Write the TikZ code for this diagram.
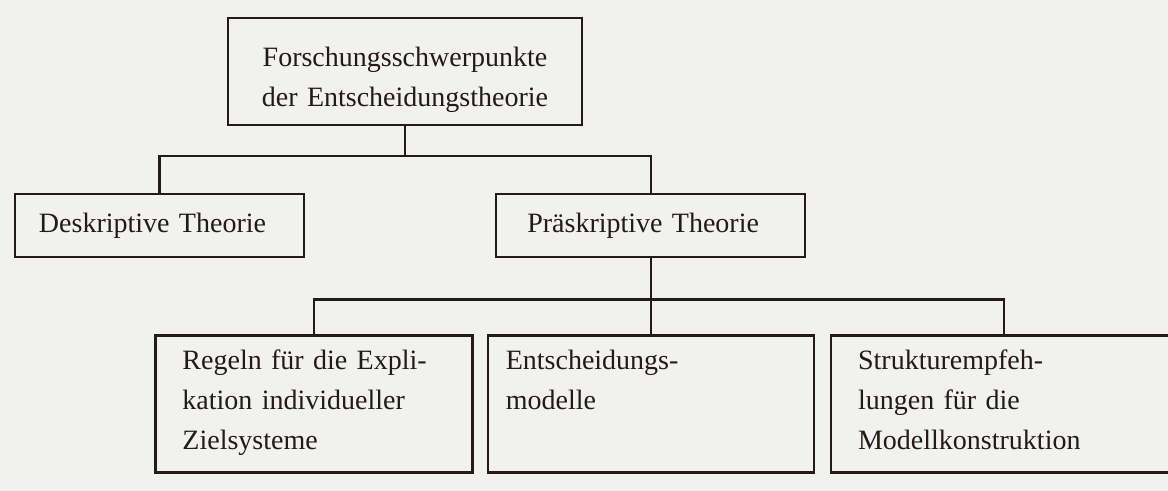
\documentclass[tikz,border=0pt]{standalone}
\usepackage{fontspec}
\setmainfont{Liberation Serif}
\usepackage{tikz}
\usetikzlibrary{positioning}
\definecolor{ink}{RGB}{36,26,22}
\definecolor{paper}{RGB}{241,241,239}

\begin{document}
\begin{tikzpicture}[
        every node/.style={font=\fontsize{14}{20}\selectfont, text=ink},
        box/.style={rectangle, draw=ink, line width=1.15pt, inner sep=0pt, align=center},
        % middle boxes: text a little left of centre
        branch/.style={box, align=left, inner xsep=15.5pt, minimum height=31.5pt},
        % bottom boxes: text sits at the top left
        leaf/.style={box, align=left, inner xsep=13.5pt, inner ysep=7pt, text height=10pt, text depth=44.5pt},
        link/.style={draw=ink, line width=1.15pt}
    ]

    % Page
    \useasboundingbox (-202.5pt,-209.75pt) rectangle (381.5pt,35.75pt);
    \clip (-202.5pt,-209.75pt) rectangle (381.5pt,35.75pt);
    \fill[paper] (-202.5pt,-209.75pt) rectangle (381.5pt,35.75pt);

    % Top node
    \node[box, text width=177pt, text height=24.5pt, text depth=29pt] (root) {Forschungsschwerpunkte\\der Entscheidungstheorie};

    % Second level
    \node[branch, below=33.5pt of root, xshift=-122.75pt, inner xsep=12pt, text width=120.5pt] (deskriptiv) {Deskriptive Theorie};
    \node[branch, right=95pt of deskriptiv, text width=123.5pt] (praeskriptiv) {Präskriptive Theorie};

    % Bottom row
    \node[leaf, below=38pt of praeskriptiv, inner xsep=9pt, text width=145pt] (modelle) {Entscheidungs-\\modelle};
    \node[leaf, left=6.5pt of modelle, text width=131.5pt] (regeln) {Regeln für die Expli-\\kation individueller\\Zielsysteme};
    \node[leaf, right=7.5pt of modelle, text width=146pt] (struktur) {Strukturempfeh-\\lungen für die\\Modellkonstruktion};

    % Connectors
    \draw[link] (root.south) -- ++(0,-15pt) -| (deskriptiv.north);
    \draw[link] (root.south) -- ++(0,-15pt) -| (praeskriptiv.north);
    \draw[link] (praeskriptiv.south) -- ++(0,-20.5pt) -| (regeln.north);
    \draw[link] (praeskriptiv.south) -- (modelle.north);
    \draw[link] (praeskriptiv.south) -- ++(0,-20.5pt) -| (struktur.north);

\end{tikzpicture}
\end{document}
